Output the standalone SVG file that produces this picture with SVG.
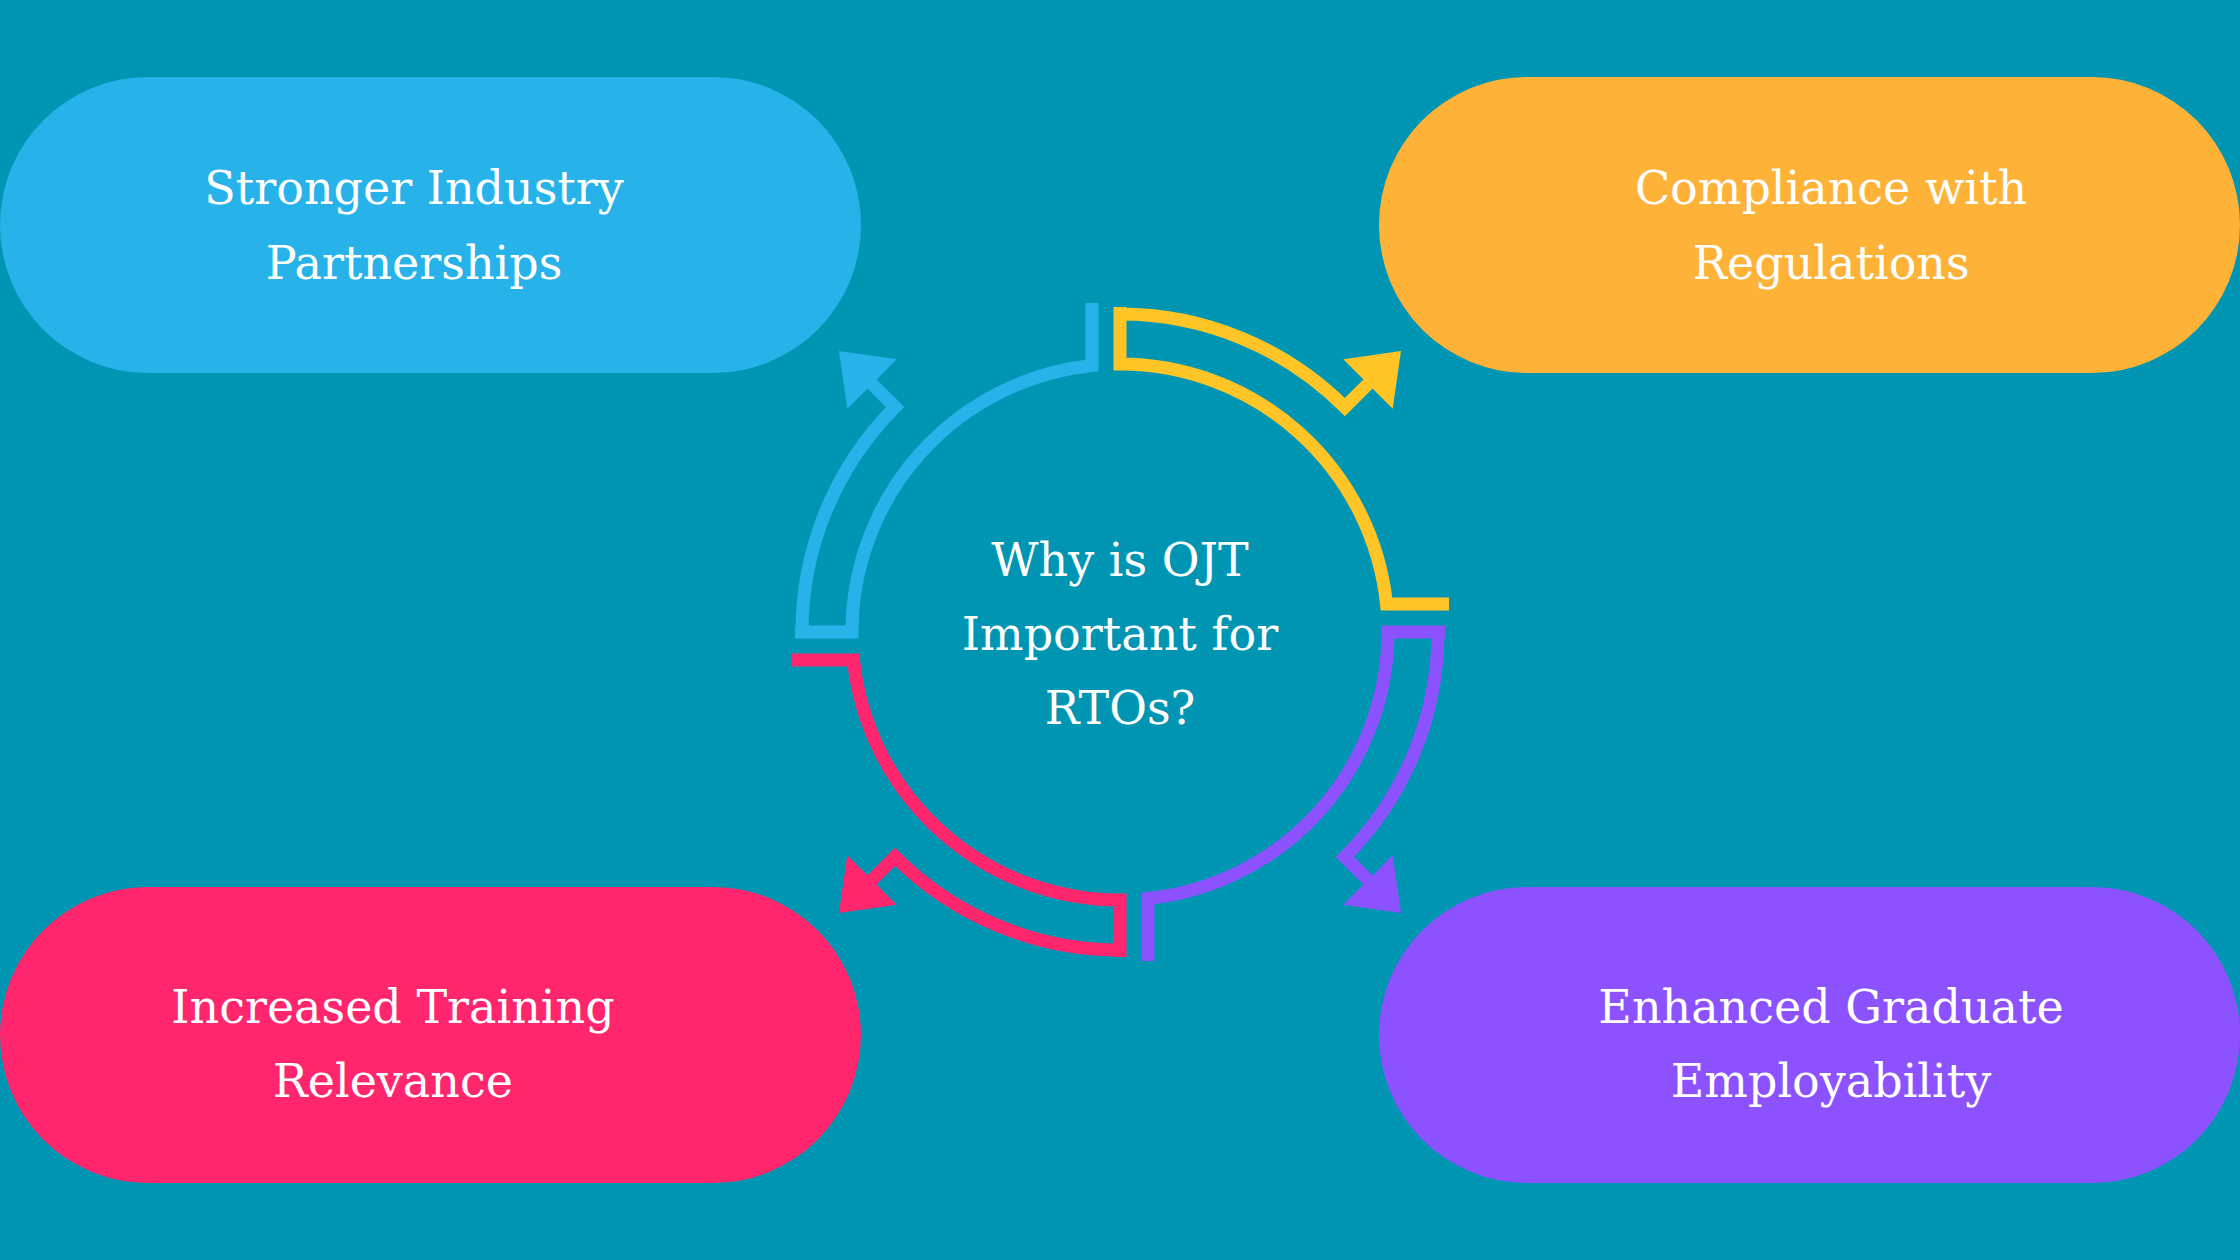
<svg xmlns="http://www.w3.org/2000/svg" width="2240" height="1260" viewBox="0 0 2240 1260">
<style>
.t{font-family:"DejaVu Serif","Liberation Serif",serif;font-size:46px;fill:#fff;text-anchor:middle}
.arc{fill:none;stroke-width:13}
</style>
<defs>
<g id="arrow">
<path class="arc" d="M -28,-329 L -28,-266.5 A 268 268 0 0 0 -268,0 L -325,0 M -318,0 A 318 318 0 0 1 -224.9,-224.9 L -250,-250"/>
<polygon points="-223.3,-272.7 -281,-281 -272.7,-223.3" stroke="none"/>
</g>
</defs>
<rect width="2240" height="1260" fill="#0096B3"/>
<g id="connectors">
<g transform="translate(1120,632)">
<use href="#arrow" stroke="#27B3E9" fill="#27B3E9"/>
<use href="#arrow" transform="rotate(90)" stroke="#FFC425" fill="#FFC425"/>
<use href="#arrow" transform="rotate(180)" stroke="#8C52FF" fill="#8C52FF"/>
<use href="#arrow" transform="rotate(270)" stroke="#FF266D" fill="#FF266D"/>
</g>
</g>
<g id="center">
<text class="t" x="1120" y="576">Why is OJT</text>
<text class="t" x="1120" y="650">Important for</text>
<text class="t" x="1120" y="724">RTOs?</text>
</g>
<g id="n1">
<rect x="0" y="77" width="861" height="296" rx="148" fill="#27B3E9"/>
<text class="t" x="414" y="204">Stronger Industry</text>
<text class="t" x="414" y="279">Partnerships</text>
</g>
<g id="n2">
<rect x="1379" y="77" width="861" height="296" rx="148" fill="#FFB238"/>
<text class="t" x="1831" y="204">Compliance with</text>
<text class="t" x="1831" y="279">Regulations</text>
</g>
<g id="n3">
<rect x="0" y="887" width="861" height="296" rx="148" fill="#FF266D"/>
<text class="t" x="393" y="1023">Increased Training</text>
<text class="t" x="393" y="1097">Relevance</text>
</g>
<g id="n4">
<rect x="1379" y="887" width="861" height="296" rx="148" fill="#8C52FF"/>
<text class="t" x="1831" y="1023">Enhanced Graduate</text>
<text class="t" x="1831" y="1097">Employability</text>
</g>
</svg>
